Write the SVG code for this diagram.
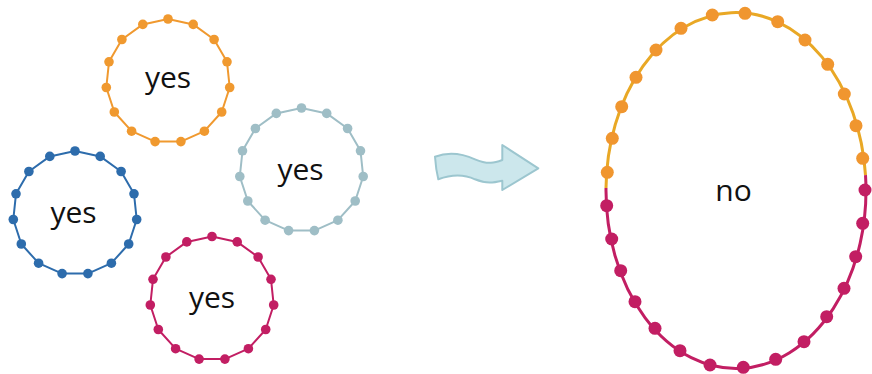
<svg xmlns="http://www.w3.org/2000/svg" xmlns:xlink="http://www.w3.org/1999/xlink" width="872" height="374" viewBox="0 0 872 374">
<style>
.lbl{font-family:"Open Sans","Liberation Sans",sans-serif;font-size:30px;fill:#111;text-anchor:middle}
.ringline{fill:none;stroke:currentColor;stroke-width:2;stroke-linejoin:round}
.ringdot{fill:currentColor}
.big-o{fill:#F0962F}
.big-m{fill:#C21E63}
</style>
<defs>
<g id="ring">
<polygon class="ringline" points="0,-62 25.2,-56.6 46.1,-41.5 59,-19.2 61.7,6.5 53.7,31 36.4,50.2 12.9,60.6 -12.9,60.6 -36.4,50.2 -53.7,31 -61.7,6.5 -59,-19.2 -46.1,-41.5 -25.2,-56.6"/>
<g class="ringdot">
<circle cx="0" cy="-62" r="4.8"/><circle cx="25.2" cy="-56.6" r="4.8"/><circle cx="46.1" cy="-41.5" r="4.8"/><circle cx="59" cy="-19.2" r="4.8"/><circle cx="61.7" cy="6.5" r="4.8"/><circle cx="53.7" cy="31" r="4.8"/><circle cx="36.4" cy="50.2" r="4.8"/><circle cx="12.9" cy="60.6" r="4.8"/><circle cx="-12.9" cy="60.6" r="4.8"/><circle cx="-36.4" cy="50.2" r="4.8"/><circle cx="-53.7" cy="31" r="4.8"/><circle cx="-61.7" cy="6.5" r="4.8"/><circle cx="-59" cy="-19.2" r="4.8"/><circle cx="-46.1" cy="-41.5" r="4.8"/><circle cx="-25.2" cy="-56.6" r="4.8"/>
</g>
</g>
</defs>

<g id="ring-orange" style="color:#F0992F">
<use xlink:href="#ring" href="#ring" transform="translate(168,81)"/>
<text class="lbl" x="168" y="88">yes</text>
</g>
<g id="ring-gray" style="color:#9FBEC6">
<use xlink:href="#ring" href="#ring" transform="translate(301.5,170)"/>
<text class="lbl" x="300.5" y="180">yes</text>
</g>
<g id="ring-blue" style="color:#2D6CAC">
<use xlink:href="#ring" href="#ring" transform="translate(75,213)"/>
<text class="lbl" x="73.5" y="223">yes</text>
</g>
<g id="ring-magenta" style="color:#C21E63">
<use xlink:href="#ring" href="#ring" transform="translate(212,298.5)"/>
<text class="lbl" x="212" y="308">yes</text>
</g>

<g id="connectors">
<path id="arrow" d="M435,156.7 C448.3,151.7 461.7,153.3 475,159.3 C488.3,165 495,162.7 502.3,160 L502.3,145 L538.3,168.3 L502.3,190 L502.3,180.7 C493.3,182.7 486.7,184 475,179.3 C461.7,173.3 450,175 438.3,179.3 C436.5,172 435.5,164 435,156.7 Z" fill="#CCE7EC" stroke="#9CC6CF" stroke-width="2" stroke-linejoin="round"/>
</g>

<g id="merged-ring">
<path d="M606,188.1 A130 178 0 0 1 865.5,175.1" fill="none" stroke="#E9A825" stroke-width="3"/>
<path d="M865.5,175.1 A130 178 0 1 1 606,188.1" fill="none" stroke="#C21E63" stroke-width="3"/>
<g class="big-o">
<circle cx="745" cy="13.3" r="6.5"/><circle cx="712.3" cy="15" r="6.5"/><circle cx="777.7" cy="21.7" r="6.5"/><circle cx="681" cy="28.3" r="6.5"/><circle cx="805" cy="40" r="6.5"/><circle cx="656" cy="50" r="6.5"/><circle cx="827.7" cy="64.3" r="6.5"/><circle cx="636" cy="77.3" r="6.5"/><circle cx="844.3" cy="94" r="6.5"/><circle cx="621.7" cy="106.7" r="6.5"/><circle cx="856" cy="125.7" r="6.5"/><circle cx="612.3" cy="138.3" r="6.5"/><circle cx="862.7" cy="158.3" r="6.5"/><circle cx="607.3" cy="172.3" r="6.5"/>
</g>
<g class="big-m">
<circle cx="865" cy="190" r="6.5"/><circle cx="862.7" cy="223.3" r="6.5"/><circle cx="855.7" cy="256.7" r="6.5"/><circle cx="844" cy="288.3" r="6.5"/><circle cx="826.7" cy="316.7" r="6.5"/><circle cx="804" cy="341.7" r="6.5"/><circle cx="775.7" cy="359.3" r="6.5"/><circle cx="743.3" cy="367.3" r="6.5"/><circle cx="710" cy="365" r="6.5"/><circle cx="680" cy="350.7" r="6.5"/><circle cx="655" cy="328.3" r="6.5"/><circle cx="635" cy="301.7" r="6.5"/><circle cx="620.7" cy="270.7" r="6.5"/><circle cx="611.7" cy="239" r="6.5"/><circle cx="606.7" cy="205.7" r="6.5"/>
</g>
<text class="lbl" x="733.5" y="201">no</text>
</g>
</svg>
